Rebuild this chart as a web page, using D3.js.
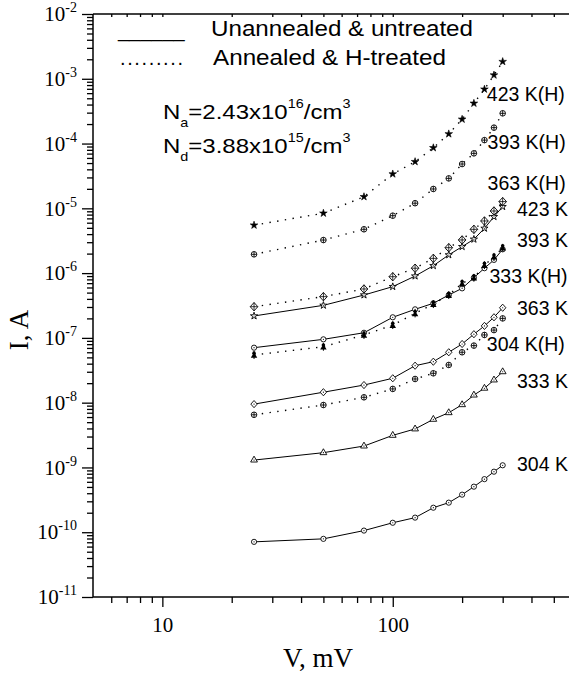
<!DOCTYPE html>
<html>
<head>
<meta charset="utf-8">
<script src="https://cdn.jsdelivr.net/npm/d3@7"></script>
<style>
  body { margin: 0; background: #fff; }
  .serif { font-family: "Liberation Serif", "Times New Roman", serif; }
  .sans { font-family: "Liberation Sans", Arial, sans-serif; }
</style>
</head>
<body>
<svg id="chart" width="569" height="674"></svg>
<script>
// bias voltage, mV (same for every curve)
const voltages = [25, 50, 75, 100, 125, 150, 175, 200, 225, 250, 275, 300];

// current, A - unannealed & untreated
const i304 = [7.1e-11, 7.9e-11, 1.06e-10, 1.40e-10, 1.68e-10, 2.39e-10, 2.86e-10, 3.80e-10, 5.05e-10, 6.6e-10, 8.6e-10, 1.08e-9];
const i333 = [1.30e-9, 1.69e-9, 2.14e-9, 3.13e-9, 3.93e-9, 5.53e-9, 7.0e-9, 9.3e-9, 1.31e-8, 1.67e-8, 2.24e-8, 3.0e-8];
const i363 = [9.5e-9, 1.45e-8, 1.87e-8, 2.38e-8, 3.72e-8, 4.29e-8, 6.0e-8, 8.05e-8, 1.14e-7, 1.53e-7, 2.08e-7, 2.92e-7];
const i393 = [7.06e-8, 9.5e-8, 1.2e-7, 2.08e-7, 2.76e-7, 3.42e-7, 4.59e-7, 5.82e-7, 8.5e-7, 1.19e-6, 1.6e-6, 2.33e-6];
const i423 = [2.18e-7, 3.18e-7, 4.59e-7, 6.18e-7, 9.0e-7, 1.30e-6, 1.91e-6, 2.56e-6, 3.33e-6, 4.91e-6, 7.43e-6, 1.06e-5];

// current, A - annealed & H-treated
const i304H = [6.5e-9, 9.2e-9, 1.21e-8, 1.63e-8, 2.32e-8, 2.84e-8, 3.82e-8, 6.0e-8, 7.6e-8, 1.11e-7, 1.32e-7, 2.0e-7];
const i333H = [5.45e-8, 7.3e-8, 1.11e-7, 1.58e-7, 2.39e-7, 3.33e-7, 4.59e-7, 6.96e-7, 8.5e-7, 1.33e-6, 1.79e-6, 2.47e-6];
const i363H = [3.03e-7, 4.33e-7, 5.69e-7, 8.8e-7, 1.19e-6, 1.69e-6, 2.47e-6, 3.25e-6, 4.74e-6, 6.38e-6, 9.1e-6, 1.27e-5];
const i393H = [1.95e-6, 3.24e-6, 4.75e-6, 7.7e-6, 1.2e-5, 1.99e-5, 2.9e-5, 4.83e-5, 7.06e-5, 1.13e-4, 1.76e-4, 2.93e-4];
const i423H = [5.5e-6, 8.4e-6, 1.51e-5, 3.39e-5, 5.25e-5, 8.6e-5, 1.41e-4, 2.37e-4, 4.18e-4, 6.9e-4, 1.14e-3, 1.84e-3];

// curve labels, placed in data coordinates (V, I)
const labelText = ["423 K(H)", "393 K(H)", "363 K(H)", "423 K", "393 K", "333 K(H)", "363 K", "304 K(H)", "333 K", "304 K"];
const labelV = [256, 258, 258, 346, 346, 263, 346, 256, 346, 346];
const labelI = [4.54e-4, 8.24e-5, 1.92e-5, 7.62e-6, 2.56e-6, 7.11e-7, 2.25e-7, 6.34e-8, 1.69e-8, 8.9e-10];

const xMajor = [10, 100];
const yExponents = [-11, -10, -9, -8, -7, -6, -5, -4, -3, -2];

const series = [
  {values: i304, marker: "circle", dotted: false},
  {values: i333, marker: "triangle", dotted: false},
  {values: i363, marker: "diamond", dotted: false},
  {values: i393, marker: "circle", dotted: false},
  {values: i423, marker: "star", dotted: false},
  {values: i304H, marker: "oplus", dotted: true},
  {values: i333H, marker: "spade", dotted: true},
  {values: i363H, marker: "dplus", dotted: true},
  {values: i393H, marker: "oplus", dotted: true},
  {values: i423H, marker: "starFilled", dotted: true}
];

const svg = d3.select("#chart");

// scales - left axis at 5 mV, bottom at 1e-11 A
let plotLeft = 93, plotTop = 14, plotBottom = 597;
let decadeX = 230.4;
let x = d3.scaleLog().domain([5, 600]).range([plotLeft, plotLeft + decadeX * Math.log10(600 / 5)]);
let y = d3.scaleLog().domain([1e-11, 1e-2]).range([plotBottom, plotTop]);

// minor tick values
let xMinor = [6, 7, 8, 9, 20, 30, 40, 50, 60, 70, 80, 90, 200, 300, 400, 500];
let yMinor = [];
for (let e = -11; e < -2; e++) {
  for (let m = 2; m < 10; m++) yMinor.push(m * Math.pow(10, e));
}

// bottom axis
svg.append("g")
   .attr("transform", `translate(0,${plotBottom})`)
   .call(d3.axisBottom(x).tickValues(xMinor).tickSize(6).tickFormat("").tickSizeOuter(0))
   .call(g => g.select(".domain").remove());
let xAx = svg.append("g")
   .attr("transform", `translate(0,${plotBottom})`)
   .call(d3.axisBottom(x).tickValues(xMajor).tickSize(10).tickPadding(10).tickFormat(d3.format("d")).tickSizeOuter(0));
xAx.select(".domain").remove();
xAx.selectAll("text").attr("class", "serif").attr("font-size", 21).attr("fill", "#000");

// top axis, small inner ticks
svg.append("g")
   .attr("transform", `translate(0,${plotTop})`)
   .call(d3.axisTop(x).tickValues(xMinor.concat(xMajor)).tickSize(-3).tickFormat("").tickSizeOuter(0))
   .call(g => g.select(".domain").remove());

// left axis
svg.append("g")
   .attr("transform", `translate(${plotLeft},0)`)
   .call(d3.axisLeft(y).tickValues(yMinor).tickSize(6).tickFormat("").tickSizeOuter(0))
   .call(g => g.select(".domain").remove());
let yAx = svg.append("g")
   .attr("transform", `translate(${plotLeft},0)`)
   .call(d3.axisLeft(y).tickValues(yExponents.map(e => Math.pow(10, e))).tickSize(11).tickPadding(5).tickSizeOuter(0));
yAx.select(".domain").remove();
yAx.selectAll("text")
   .attr("class", "serif")
   .attr("font-size", 21)
   .attr("fill", "#000")
   .text(null)
   .each(function(d, i) {
     let t = d3.select(this);
     t.append("tspan").text("10");
     t.append("tspan").attr("font-size", 14).attr("dy", -9).text(yExponents[i]);
   });

svg.selectAll(".tick line").attr("stroke", "#000").attr("stroke-width", 1.3);

// frame lines
svg.append("line").attr("x1", plotLeft).attr("x2", plotLeft).attr("y1", plotTop).attr("y2", plotBottom)
   .attr("stroke", "#000").attr("stroke-width", 1.5);
svg.append("line").attr("x1", plotLeft).attr("x2", 569).attr("y1", plotBottom).attr("y2", plotBottom)
   .attr("stroke", "#000").attr("stroke-width", 1.5);
svg.append("line").attr("x1", plotLeft).attr("x2", 569).attr("y1", plotTop).attr("y2", plotTop)
   .attr("stroke", "#000").attr("stroke-width", 1.5);

// curves
let line = d3.line()
             .x(function(d) { return x(d[0]); })
             .y(function(d) { return y(d[1]); });

function drawMarker(g, type) {
  let sw = 0.9;
  if (type === "circle") {
    g.append("circle").attr("r", 2.6).attr("fill", "#fff").attr("stroke", "#000").attr("stroke-width", sw);
    g.append("circle").attr("r", 0.6).attr("fill", "#000");
  } else if (type === "triangle") {
    g.append("path").attr("d", d3.symbol(d3.symbolTriangle, 20)()).attr("fill", "#fff").attr("stroke", "#000").attr("stroke-width", sw);
    g.append("circle").attr("r", 0.6).attr("fill", "#000");
  } else if (type === "diamond") {
    g.append("path").attr("d", "M0,-3.6L3.2,0L0,3.6L-3.2,0Z").attr("fill", "#fff").attr("stroke", "#000").attr("stroke-width", sw);
    g.append("circle").attr("r", 0.6).attr("fill", "#000");
  } else if (type === "oplus") {
    g.append("circle").attr("r", 2.8).attr("fill", "#fff").attr("stroke", "#000").attr("stroke-width", sw);
    g.append("path").attr("d", "M-2.8,0H2.8M0,-2.8V2.8").attr("stroke", "#000").attr("stroke-width", sw);
  } else if (type === "dplus") {
    g.append("path").attr("d", "M0,-4.2L3.8,0L0,4.2L-3.8,0Z").attr("fill", "#fff").attr("stroke", "#000").attr("stroke-width", sw);
    g.append("path").attr("d", "M-3.8,0H3.8M0,-4.2V4.2").attr("stroke", "#000").attr("stroke-width", 0.8);
  } else if (type === "star") {
    g.append("path").attr("d", d3.symbol(d3.symbolStar, 16)()).attr("fill", "#fff").attr("stroke", "#000").attr("stroke-width", sw);
    g.append("circle").attr("r", 0.5).attr("fill", "#000");
  } else if (type === "starFilled") {
    g.append("path").attr("d", d3.symbol(d3.symbolStar, 18)()).attr("fill", "#000").attr("stroke", "#000").attr("stroke-width", 0.6);
  } else if (type === "spade") {
    g.append("path").attr("d", d3.symbol(d3.symbolTriangle, 18)()).attr("transform", "translate(0,1)").attr("fill", "#000");
    g.append("circle").attr("cy", -1.8).attr("r", 1.8).attr("fill", "#000");
    g.append("path").attr("d", "M0,-3.8V4").attr("stroke", "#000").attr("stroke-width", 1);
  }
}

series.forEach(function(s) {
  let pts = voltages.map(function(v, i) { return [v, s.values[i]]; });
  svg.append("path")
     .datum(pts)
     .attr("d", line)
     .attr("fill", "none")
     .attr("stroke", "#000")
     .attr("stroke-width", s.dotted ? 1.4 : 1)
     .attr("stroke-dasharray", s.dotted ? "1.4,6.4" : null);
  pts.forEach(function(p) {
    let g = svg.append("g").attr("transform", `translate(${x(p[0])},${y(p[1])})`);
    drawMarker(g, s.marker);
  });
});

// curve labels
labelText.forEach(function(t, i) {
  svg.append("text")
     .attr("class", "sans")
     .attr("x", x(labelV[i]))
     .attr("y", y(labelI[i]))
     .attr("font-size", 19.5)
     .attr("fill", "#000")
     .text(t);
});

// legend
svg.append("text").attr("class", "sans").attr("x", 118).attr("y", 37).attr("font-size", 20).text("______");
svg.append("text").attr("class", "sans").attr("x", 211).attr("y", 36).attr("font-size", 21.5)
   .attr("textLength", 262).attr("lengthAdjust", "spacingAndGlyphs").text("Unannealed & untreated");
svg.append("text").attr("class", "sans").attr("x", 120).attr("y", 65).attr("font-size", 20)
   .attr("textLength", 63).text(".........");
svg.append("text").attr("class", "sans").attr("x", 213).attr("y", 65).attr("font-size", 21.5)
   .attr("textLength", 233).attr("lengthAdjust", "spacingAndGlyphs").text("Annealed & H-treated");

// doping concentrations
function concLine(yPos, sub, val, exp) {
  let t = svg.append("text")
             .attr("class", "sans")
             .attr("font-size", 20)
             .attr("transform", `translate(163,${yPos}) scale(1.2,1)`);
  t.append("tspan").text("N");
  t.append("tspan").attr("font-size", 12).attr("dy", 8).text(sub);
  t.append("tspan").attr("dy", -8).text("=" + val + "x10");
  t.append("tspan").attr("font-size", 12).attr("dy", -11).text(exp);
  t.append("tspan").attr("dy", 11).text("/cm");
  t.append("tspan").attr("font-size", 12).attr("dy", -11).text("3");
}
concLine(119, "a", "2.43", "16");
concLine(153, "d", "3.88", "15");

// axis titles
svg.append("text")
   .attr("class", "serif")
   .attr("font-size", 27)
   .attr("text-anchor", "middle")
   .attr("transform", "translate(28,330) rotate(-90)")
   .text("I, A");
svg.append("text")
   .attr("class", "serif")
   .attr("font-size", 27)
   .attr("text-anchor", "middle")
   .attr("x", 318)
   .attr("y", 667)
   .text("V, mV");
</script>
</body>
</html>
